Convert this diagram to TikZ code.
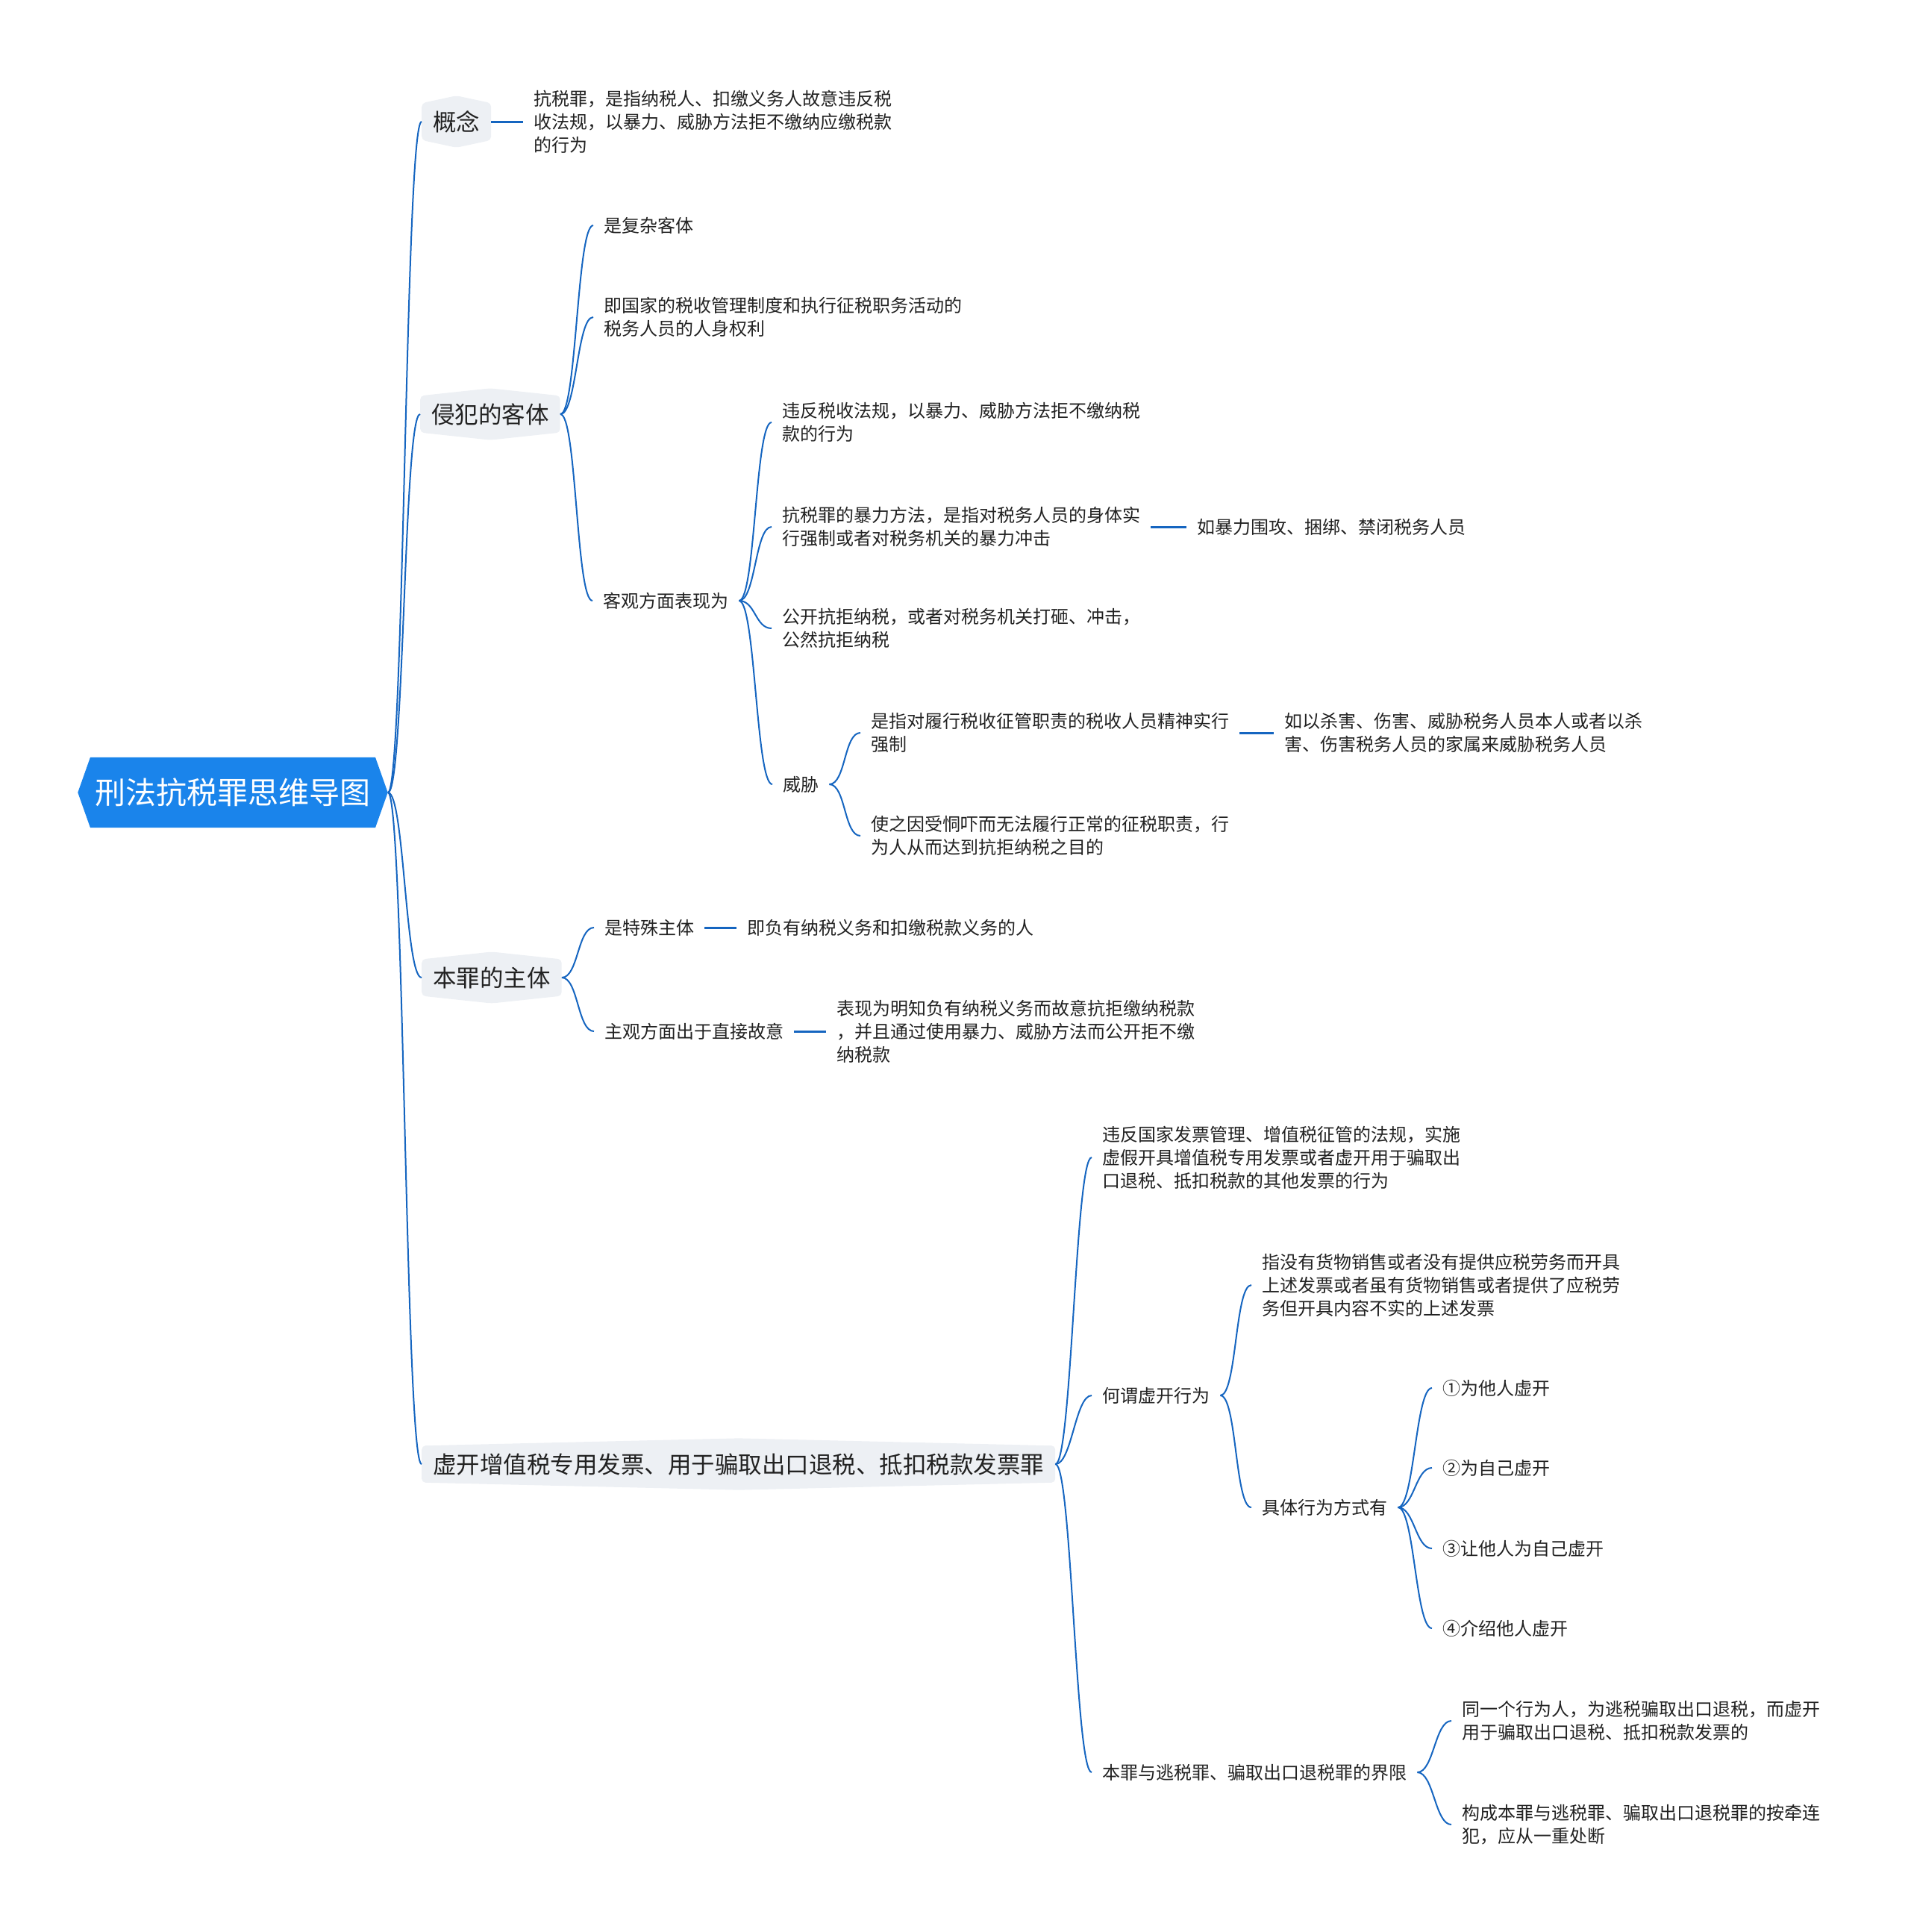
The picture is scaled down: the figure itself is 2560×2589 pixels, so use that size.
\documentclass[tikz,border=0pt]{standalone}
\usepackage{fontspec}
\usepackage{xcolor}
\usepackage{tikz}
\usetikzlibrary{shapes.symbols}
\newfontfamily\cjk{Noto Sans CJK SC}
\definecolor{rootblue}{RGB}{26,132,235}
\definecolor{linkblue}{RGB}{21,101,192}
\definecolor{lonegray}{RGB}{237,240,244}
\definecolor{txtgray}{RGB}{34,34,34}
\tikzset{
    rootbox/.style={signal, signal to=east and west, signal pointer angle=141, fill=rootblue, text=white,
        inner xsep=6.5pt, inner ysep=28pt, font=\cjk\fontsize{41}{49}\selectfont},
    lone/.style={signal, signal to=north and south, signal pointer angle=#1, fill=lonegray, rounded corners=5pt,
        text=txtgray, inner xsep=15pt, inner ysep=10pt, anchor=west, font=\cjk\fontsize{31.5}{38}\selectfont},
    leaf/.style={text=txtgray, align=left, inner xsep=14pt, inner ysep=2pt, anchor=west,
        font=\cjk\fontsize{24}{31}\selectfont},
    curve/.style={linkblue, line width=2pt},
    stub/.style={linkblue, line width=3pt}
}
\begin{document}
\begin{tikzpicture}[x=1pt, y=-1pt]
        \useasboundingbox (0,0) rectangle (2560,2589);

        \node[rootbox] (root) at (312,1062) {刑法抗税罪思维导图};

        \node[lone=155.7] (gn) at (565,163) {概念};
        \node[lone=167.8] (qf) at (563,555) {侵犯的客体};
        \node[lone=167.8] (bz) at (565,1310) {本罪的主体};
        \node[lone=177.3] (xk) at (565,1962) {虚开增值税专用发票、用于骗取出口退税、抵扣税款发票罪};

        \node[leaf] (g1) at (701,163) {抗税罪，是指纳税人、扣缴义务人故意违反税\\收法规，以暴力、威胁方法拒不缴纳应缴税款\\的行为};

        \node[leaf] (q1) at (795,302) {是复杂客体};
        \node[leaf] (q2) at (795,425) {即国家的税收管理制度和执行征税职务活动的\\税务人员的人身权利};
        \node[leaf] (kg) at (794,805) {客观方面表现为};
        \node[leaf] (k1) at (1034,566) {违反税收法规，以暴力、威胁方法拒不缴纳税\\款的行为};
        \node[leaf] (k2) at (1034,706) {抗税罪的暴力方法，是指对税务人员的身体实\\行强制或者对税务机关的暴力冲击};
        \node[leaf] (k2a) at (1590,706) {如暴力围攻、捆绑、禁闭税务人员};
        \node[leaf] (k3) at (1034,842) {公开抗拒纳税，或者对税务机关打砸、冲击，\\公然抗拒纳税};
        \node[leaf] (wx) at (1035,1051) {威胁};
        \node[leaf] (w1) at (1153,982) {是指对履行税收征管职责的税收人员精神实行\\强制};
        \node[leaf] (w1a) at (1707,982) {如以杀害、伤害、威胁税务人员本人或者以杀\\害、伤害税务人员的家属来威胁税务人员};
        \node[leaf] (w2) at (1153,1120) {使之因受恫吓而无法履行正常的征税职责，行\\为人从而达到抗拒纳税之目的};

        \node[leaf] (b1) at (796,1243) {是特殊主体};
        \node[leaf] (b1a) at (987,1243) {即负有纳税义务和扣缴税款义务的人};
        \node[leaf] (b2) at (796,1382) {主观方面出于直接故意};
        \node[leaf] (b2a) at (1107,1382) {表现为明知负有纳税义务而故意抗拒缴纳税款\\，并且通过使用暴力、威胁方法而公开拒不缴\\纳税款};

        \node[leaf] (x1) at (1463,1551) {违反国家发票管理、增值税征管的法规，实施\\虚假开具增值税专用发票或者虚开用于骗取出\\口退税、抵扣税款的其他发票的行为};
        \node[leaf] (hw) at (1463,1870) {何谓虚开行为};
        \node[leaf] (h1) at (1677,1722) {指没有货物销售或者没有提供应税劳务而开具\\上述发票或者虽有货物销售或者提供了应税劳\\务但开具内容不实的上述发票};
        \node[leaf] (jt) at (1677,2020) {具体行为方式有};
        \node[leaf] (j1) at (1919,1860) {①为他人虚开};
        \node[leaf] (j2) at (1919,1967) {②为自己虚开};
        \node[leaf] (j3) at (1919,2075) {③让他人为自己虚开};
        \node[leaf] (j4) at (1919,2182) {④介绍他人虚开};
        \node[leaf] (jx) at (1463,2375) {本罪与逃税罪、骗取出口退税罪的界限};
        \node[leaf] (y1) at (1945,2306) {同一个行为人，为逃税骗取出口退税，而虚开\\用于骗取出口退税、抵扣税款发票的};
        \node[leaf] (y2) at (1945,2445) {构成本罪与逃税罪、骗取出口退税罪的按牵连\\犯，应从一重处断};

        \foreach \p/\c in {root/gn, root/qf, root/bz, root/xk, qf/q1, qf/q2, qf/kg, kg/k1, kg/k2, kg/k3, kg/wx,
            wx/w1, wx/w2, bz/b1, bz/b2, xk/x1, xk/hw, xk/jx, hw/h1, hw/jt, jt/j1, jt/j2, jt/j3, jt/j4, jx/y1, jx/y2}
            \draw[curve] (\p.east) .. controls +(22,0) and +(-22,0) .. (\c.west);

        \foreach \p/\c in {gn/g1, k2/k2a, w1/w1a, b1/b1a, b2/b2a}
            \draw[stub] (\p.east) -- (\c.west);
    \end{tikzpicture}
\end{document}
